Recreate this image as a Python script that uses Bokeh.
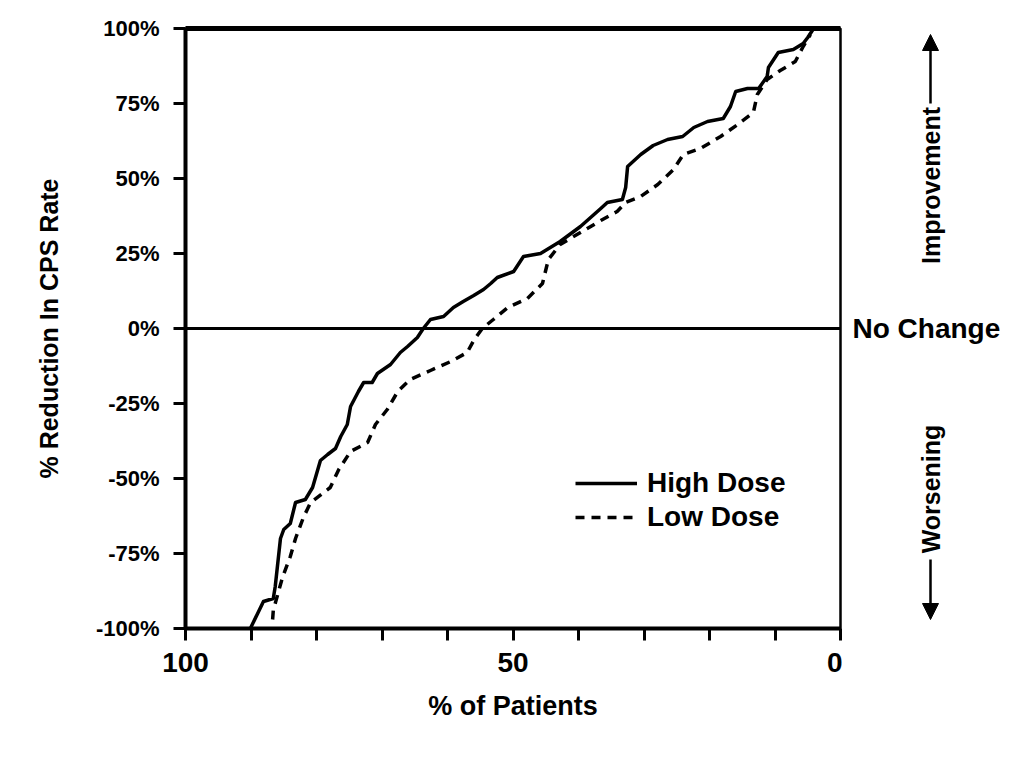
import math
from bokeh.plotting import figure
from bokeh.layouts import row
from bokeh.models import (Range1d, FixedTicker, LinearAxis, Span, Label, Arrow,
                          NormalHead, Legend, LegendItem)
from bokeh.embed import file_html
from bokeh.resources import INLINE

# ---- data ----
high_x = [90.1, 88.1, 86.6, 86.3, 85.5, 85.0, 84.0, 83.2, 81.7, 80.6, 79.4, 78.3,
          77.1, 76.3, 75.3, 74.8, 73.6, 72.8, 71.5, 70.7, 68.7, 67.2, 66.1, 64.6,
          63.7, 62.6, 60.6, 59.1, 57.6, 56.0, 54.5, 53.4, 52.4, 49.9, 48.4, 45.8,
          42.8, 39.7, 36.6, 35.6, 33.3, 32.8, 32.5, 30.5, 28.6, 26.4, 24.1, 22.4,
          20.3, 17.9, 16.8, 16.0, 14.2, 12.5, 11.2, 11.0, 9.5, 7.2, 5.7, 5.0, 4.1]
high_y = [-100, -91, -90, -86, -70, -67, -65, -58, -57, -53, -44, -42,
          -40, -36, -32, -26, -21, -18, -18, -15, -12, -8, -6, -3,
          0, 3, 4, 7, 9, 11, 13, 15, 17, 19, 24, 25,
          29, 34, 40, 42, 43, 47, 54, 58, 61, 63, 64, 67,
          69, 70, 74, 79, 80, 80, 84, 87, 92, 93, 95, 97, 100]

low_x = [86.7, 86.6, 85.2, 84.0, 83.2, 82.0, 80.9, 77.9, 76.6, 74.8, 72.2, 71.0,
         69.2, 67.6, 65.7, 62.6, 59.5, 57.0, 56.0, 54.7, 53.0, 50.8, 47.8, 45.5,
         44.6, 42.8, 39.7, 36.6, 34.1, 32.8, 30.5, 27.9, 25.5, 24.0, 21.4, 18.3,
         15.7, 13.3, 12.7, 11.2, 9.2, 6.9, 5.7, 4.6]
low_y = [-97, -94, -83, -76, -70, -63, -58, -53, -47, -41, -38, -32,
         -27, -21, -17, -14, -11, -8, -4, 0, 3, 7, 10, 15,
         23, 28, 32, 36, 39, 42, 44, 48, 53, 58, 60, 64,
         68, 72, 78, 83, 86, 89, 94, 98]

y_ticks = [-100, -75, -50, -25, 0, 25, 50, 75, 100]
y_tick_labels = ["-100%", "-75%", "-50%", "-25%", "0%", "25%", "50%", "75%", "100%"]
x_ticks = [0, 10, 20, 30, 40, 50, 60, 70, 80, 90, 100]
x_tick_labels = ["0", "", "", "", "", "50", "", "", "", "", "100"]
series_names = ["High Dose", "Low Dose"]

FONT = "Liberation Sans"

p = figure(width=842, height=768, output_backend="svg", toolbar_location=None,
           x_range=Range1d(100, 0), y_range=Range1d(-100, 100),
           min_border_left=185, min_border_right=2, min_border_top=28,
           min_border_bottom=140, x_axis_location="below", y_axis_location="left")
p.background_fill_color = "white"
p.border_fill_color = "white"
p.grid.visible = False
p.outline_line_color = "black"
p.outline_line_width = 2.5

# axes
xa = p.xaxis[0]
xa.ticker = FixedTicker(ticks=x_ticks)
xa.major_label_overrides = {t: l for t, l in zip(x_ticks, x_tick_labels)}
xa.axis_label = "% of Patients"
ya = p.yaxis[0]
ya.ticker = FixedTicker(ticks=y_ticks)
ya.major_label_overrides = {t: l for t, l in zip(y_ticks, y_tick_labels)}
ya.axis_label = "% Reduction In CPS Rate"

for ax in (xa, ya):
    ax.axis_line_width = 4
    ax.axis_line_color = "black"
    ax.major_tick_line_width = 3
    ax.major_tick_line_color = "black"
    ax.major_tick_out = 12
    ax.major_tick_in = 0
    ax.minor_tick_line_color = None
    ax.major_label_text_font = FONT
    ax.major_label_text_font_style = "bold"
    ax.major_label_text_color = "black"
    ax.axis_label_text_font = FONT
    ax.axis_label_text_font_style = "bold"
    ax.axis_label_text_color = "black"

xa.major_label_text_font_size = "28px"
xa.major_label_standoff = 12
xa.axis_label_text_font_size = "27px"
xa.axis_label_standoff = 16
ya.major_label_text_font_size = "22px"
ya.major_label_standoff = 14
ya.axis_label_text_font_size = "25px"
ya.axis_label_standoff = 30

top = LinearAxis(ticker=FixedTicker(ticks=[]), axis_line_width=5, axis_line_color="black",
                 major_tick_line_color=None, minor_tick_line_color=None,
                 major_label_text_font_size="0px")
p.add_layout(top, "above")

# zero line
p.add_layout(Span(location=0, dimension="width", line_color="black", line_width=3))

# curves
r_high = p.line(high_x, high_y, line_color="black", line_width=3.5, line_join="round")
r_low = p.line(low_x, low_y, line_color="black", line_width=3.5, line_dash="9 7")

legend = Legend(items=[LegendItem(label=series_names[0], renderers=[r_high]),
                       LegendItem(label=series_names[1], renderers=[r_low])],
                location=(390, 94), orientation="vertical",
                glyph_width=62, glyph_height=34, label_height=34, spacing=0,
                padding=0, margin=0, label_standoff=10,
                label_text_font=FONT, label_text_font_style="bold",
                label_text_font_size="28px", label_text_color="black",
                background_fill_alpha=0, border_line_color=None)
p.add_layout(legend)

# right-side annotation panel (shares the y range so 0% lines up)
p2 = figure(width=182, height=768, output_backend="svg", toolbar_location=None,
            x_range=Range1d(0, 182), y_range=p.y_range,
            min_border_left=0, min_border_right=0, min_border_top=28,
            min_border_bottom=140)
p2.axis.visible = False
p2.grid.visible = False
p2.outline_line_color = None
p2.background_fill_color = "white"
p2.border_fill_color = "white"

p2.add_layout(Label(x=10, y=0, text="No Change", text_font=FONT,
                    text_font_style="bold", text_font_size="28px", text_color="black",
                    text_align="left", text_baseline="middle"))
ax_x = 88
p2.add_layout(Label(x=ax_x, y=47.7, text="Improvement", angle=math.pi / 2, text_font=FONT,
                    text_font_style="bold", text_font_size="25px", text_color="black",
                    text_align="center", text_baseline="middle"))
p2.add_layout(Label(x=ax_x, y=-53.5, text="Worsening", angle=math.pi / 2, text_font=FONT,
                    text_font_style="bold", text_font_size="25px", text_color="black",
                    text_align="center", text_baseline="middle"))
p2.add_layout(Arrow(end=NormalHead(size=16, fill_color="black", line_color="black"),
                    x_start=ax_x, y_start=75, x_end=ax_x, y_end=98,
                    line_width=2.5, line_color="black"))
p2.add_layout(Arrow(end=NormalHead(size=16, fill_color="black", line_color="black"),
                    x_start=ax_x, y_start=-77, x_end=ax_x, y_end=-97,
                    line_width=2.5, line_color="black"))

layout = row(p, p2, spacing=0)
open("out.html", "w").write(file_html(layout, INLINE))
